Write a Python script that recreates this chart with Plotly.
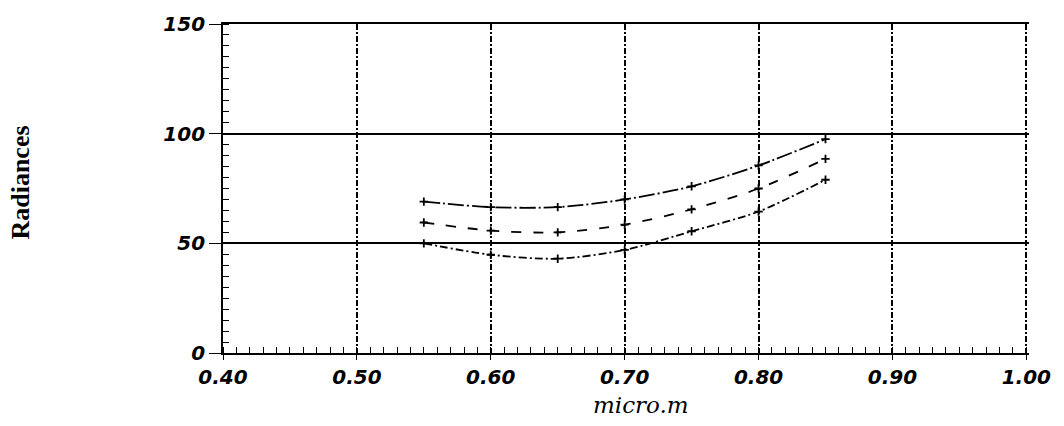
import plotly.graph_objects as go

# Data
wavelength = [0.55, 0.60, 0.65, 0.70, 0.75, 0.80, 0.85]
radiance_upper = [69.0, 66.5, 66.5, 70.0, 76.0, 85.5, 97.5]
radiance_middle = [59.5, 55.8, 55.0, 58.5, 65.5, 75.0, 88.5]
radiance_lower = [50.0, 44.8, 43.0, 47.0, 55.5, 64.5, 79.0]

x_ticks = [0.40, 0.50, 0.60, 0.70, 0.80, 0.90, 1.00]
x_ticklabels = ["0.40", "0.50", "0.60", "0.70", "0.80", "0.90", "1.00"]
y_ticks = [0, 50, 100, 150]
y_ticklabels = ["0", "50", "100", "150"]

series = [
    (radiance_upper, "16px,3px,2px,3px"),
    (radiance_middle, "10px,12px"),
    (radiance_lower, "8px,3px,2px,3px"),
]

fig = go.Figure()
for ys, dash in series:
    fig.add_trace(go.Scatter(
        x=wavelength, y=ys, mode="lines+markers",
        line=dict(color="black", width=1.8, dash=dash, shape="spline", smoothing=0.8),
        marker=dict(symbol="cross-thin-open", size=6, line=dict(color="black", width=1.8)),
        showlegend=False, hoverinfo="skip",
    ))

tickfont = dict(family="DejaVu Sans", size=20, color="black", style="italic", weight="bold")

fig.update_layout(
    width=1064, height=426,
    margin=dict(l=223, r=35, t=15, b=73),
    paper_bgcolor="white", plot_bgcolor="white",
    showlegend=False,
    xaxis=dict(
        range=[0.40, 1.002], tickvals=x_ticks, ticktext=x_ticklabels,
        showgrid=True, gridcolor="black", gridwidth=1.6, griddash="6px,2px,2px,2px",
        showline=True, linecolor="black", linewidth=1.8, mirror=True,
        ticks="outside", ticklen=5, tickcolor="black", tickwidth=1.4,
        tickfont=tickfont, zeroline=False,
        minor=dict(ticks="inside", dtick=0.01, ticklen=6, tickcolor="black", tickwidth=1.2, showgrid=False),
    ),
    yaxis=dict(
        range=[0, 150], tickvals=y_ticks, ticktext=y_ticklabels,
        showgrid=True, gridcolor="black", gridwidth=1.8,
        showline=True, linecolor="black", linewidth=1.8,
        ticks="outside", ticklen=12, tickcolor="black", tickwidth=1.4,
        tickfont=tickfont, zeroline=False,
        minor=dict(ticks="inside", dtick=5, ticklen=6, tickcolor="black", tickwidth=1.2, showgrid=False),
    ),
    annotations=[
        dict(text="Radiances", xref="paper", yref="paper", x=0, y=0.518,
             xshift=-202, textangle=-90, showarrow=False,
             xanchor="center", yanchor="middle",
             font=dict(family="Liberation Serif", size=26, color="black", weight="bold")),
        dict(text="micro.m", xref="paper", yref="paper", x=0.519, y=0,
             yshift=-52, showarrow=False, xanchor="center", yanchor="middle",
             font=dict(family="DejaVu Serif", size=23, color="black", style="italic")),
    ],
)

fig.write_html("out.html")
